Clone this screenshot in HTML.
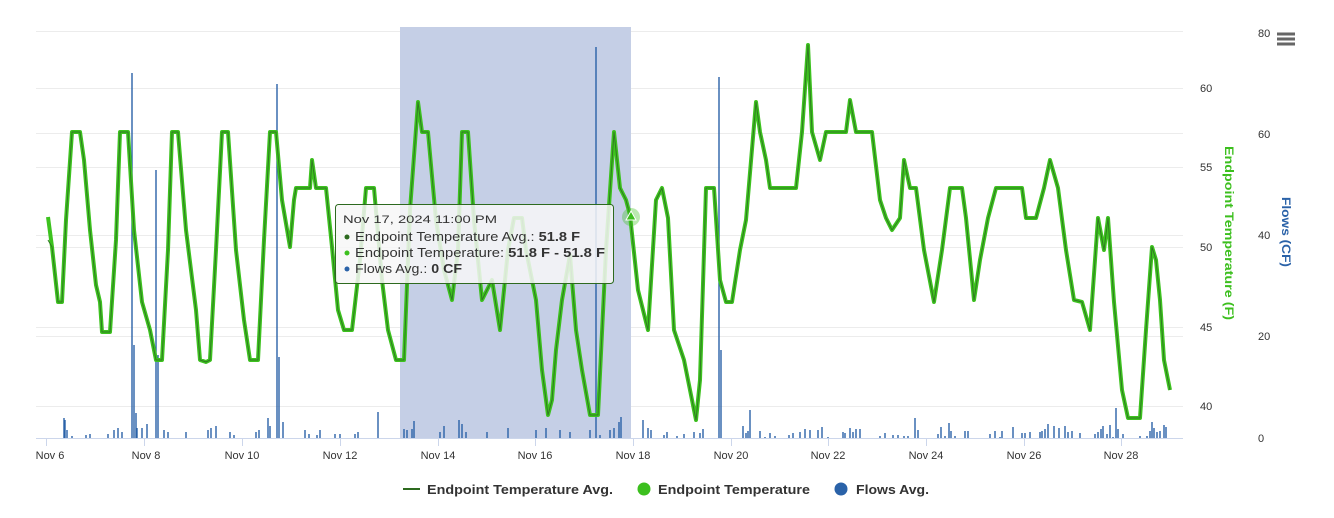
<!DOCTYPE html>
<html><head><meta charset="utf-8"><style>
html,body{margin:0;padding:0;background:#fff;}
svg{display:block;font-family:"Liberation Sans",sans-serif;}
</style></head><body>
<svg width="1334" height="518" viewBox="0 0 1334 518">
<rect width="1334" height="518" fill="#fff"/>
<g stroke="#ececec" stroke-width="1">
<line x1="36" x2="1183" y1="31.5" y2="31.5"/><line x1="36" x2="1183" y1="88.5" y2="88.5"/>
<line x1="36" x2="1183" y1="133.5" y2="133.5"/><line x1="36" x2="1183" y1="167.5" y2="167.5"/>
<line x1="36" x2="1183" y1="235.5" y2="235.5"/><line x1="36" x2="1183" y1="247.5" y2="247.5"/>
<line x1="36" x2="1183" y1="327.5" y2="327.5"/><line x1="36" x2="1183" y1="336.5" y2="336.5"/>
<line x1="36" x2="1183" y1="406.5" y2="406.5"/>
</g>
<rect x="400" y="27" width="231" height="411" fill="#c5cfe6"/>
<g stroke="#2a62a8" stroke-width="1.4" fill="none">
<path d="M132 438V73M134 438V345M156 438V170M158 438V355M277 438V84M279 438V357M596 438V47M719 438V77M721 438V350"/>
<path d="M64 438V418M65 438V420M67 438V430M72 438V436M86 438V435M90 438V434M108 438V434M114 438V430M118 438V428M122 438V432M136 438V413M137 438V428M142 438V428M147 438V424M164 438V430M168 438V432M186 438V432M208 438V430M211 438V428M216 438V426M230 438V432M234 438V435M256 438V432M259 438V430M268 438V418M270 438V426M283 438V422M305 438V430M309 438V434M317 438V435M320 438V430M335 438V434M340 438V434M355 438V434M358 438V432M378 438V412M404 438V429M407 438V430M412 438V429M414 438V421M440 438V432M444 438V426M459 438V420M462 438V424M466 438V432M487 438V432M508 438V428M536 438V430M546 438V428M560 438V430M570 438V432M590 438V430M600 438V435M610 438V430M614 438V428M619 438V422M621 438V417M643 438V420M648 438V428M651 438V430M664 438V435M667 438V432M677 438V436M684 438V434M694 438V432M700 438V433M703 438V429M743 438V426M746 438V433M748 438V431M750 438V410M760 438V431M765 438V437M770 438V433M775 438V436M789 438V435M793 438V433M800 438V432M805 438V429M810 438V430M818 438V430M822 438V427M828 438V437M843 438V432M845 438V433M850 438V428M853 438V432M856 438V429M860 438V429M880 438V436M885 438V433M893 438V435M898 438V435M904 438V436M908 438V436M915 438V418M918 438V430M938 438V434M941 438V427M945 438V436M949 438V423M951 438V431M955 438V436M965 438V431M968 438V431M990 438V434M995 438V431M1000 438V437M1002 438V431M1013 438V427M1022 438V433M1025 438V433M1030 438V432M1040 438V432M1042 438V431M1045 438V429M1048 438V424M1054 438V426M1059 438V428M1065 438V426M1068 438V432M1072 438V431M1080 438V433M1095 438V434M1098 438V432M1101 438V429M1103 438V426M1107 438V434M1110 438V425M1113 438V437M1116 438V408M1118 438V429M1123 438V434M1140 438V436M1147 438V436M1150 438V431M1152 438V422M1154 438V428M1157 438V432M1160 438V431M1164 438V425M1166 438V427"/>
</g>
<line x1="36" x2="1183" y1="438.5" y2="438.5" stroke="#ccd6eb"/>
<g stroke="#ccd6eb"><line x1="46.5" x2="46.5" y1="438" y2="446"/><line x1="144.5" x2="144.5" y1="438" y2="446"/><line x1="242.5" x2="242.5" y1="438" y2="446"/><line x1="340.5" x2="340.5" y1="438" y2="446"/><line x1="438.5" x2="438.5" y1="438" y2="446"/><line x1="535.5" x2="535.5" y1="438" y2="446"/><line x1="633.5" x2="633.5" y1="438" y2="446"/><line x1="731.5" x2="731.5" y1="438" y2="446"/><line x1="828.5" x2="828.5" y1="438" y2="446"/><line x1="926.5" x2="926.5" y1="438" y2="446"/><line x1="1024.5" x2="1024.5" y1="438" y2="446"/><line x1="1121.5" x2="1121.5" y1="438" y2="446"/></g>
<g fill="none" stroke-linejoin="round">
<polyline stroke="#3dc21f" stroke-width="4" points="48,217 52,247 58,302 62,302 66,220 72,132 80,132 84,160 90,230 96,285 100,302 102,332 110,332 116,240 120,132 128,132 134,230 142,302 150,330 156,360 162,360 168,250 172,132 178,132 186,230 196,310 200,360 206,362 210,360 216,250 222,132 228,132 236,250 244,320 250,360 258,360 264,240 270,132 276,132 282,200 290,247 294,200 296,188 310,188 312,160 316,188 326,188 332,247 338,310 344,330 352,330 360,260 366,188 374,188 382,280 388,330 396,360 404,360 410,210 418,102 422,132 428,132 436,220 444,270 452,300 458,250 462,132 468,132 474,220 482,300 492,280 500,330 508,250 514,218 522,218 526,250 536,300 542,370 548,415 552,400 556,350 562,300 570,255 576,330 582,370 590,415 598,415 606,250 614,132 620,188 626,200 630,215 638,290 648,330 656,200 662,188 668,218 674,330 684,360 690,390 696,420 700,380 706,188 714,188 720,280 726,302 732,302 740,250 746,220 756,102 760,132 766,160 770,188 796,188 802,132 808,45 812,132 820,160 826,132 846,132 850,100 856,132 872,132 880,200 886,218 892,230 900,218 904,160 910,188 916,188 924,250 934,302 942,250 950,188 962,188 966,218 974,300 980,260 988,218 996,188 1022,188 1026,218 1036,218 1044,188 1050,160 1058,188 1066,250 1074,300 1082,302 1090,330 1098,218 1104,250 1108,218 1114,302 1122,390 1128,418 1140,418 1146,330 1152,247 1156,260 1160,300 1164,360 1170,390"/>
<polyline stroke="#2f7a22" stroke-width="1" points="48,240 52,247 58,302 62,302 66,220 72,132 80,132 84,160 90,230 96,285 100,302 102,332 110,332 116,240 120,132 128,132 134,230 142,302 150,330 156,360 162,360 168,250 172,132 178,132 186,230 196,310 200,360 206,362 210,360 216,250 222,132 228,132 236,250 244,320 250,360 258,360 264,240 270,132 276,132 282,200 290,247 294,200 296,188 310,188 312,160 316,188 326,188 332,247 338,310 344,330 352,330 360,260 366,188 374,188 382,280 388,330 396,360 404,360 410,210 418,102 422,132 428,132 436,220 444,270 452,300 458,250 462,132 468,132 474,220 482,300 492,280 500,330 508,250 514,218 522,218 526,250 536,300 542,370 548,415 552,400 556,350 562,300 570,255 576,330 582,370 590,415 598,415 606,250 614,132 620,188 626,200 630,215 638,290 648,330 656,200 662,188 668,218 674,330 684,360 690,390 696,420 700,380 706,188 714,188 720,280 726,302 732,302 740,250 746,220 756,102 760,132 766,160 770,188 796,188 802,132 808,45 812,132 820,160 826,132 846,132 850,100 856,132 872,132 880,200 886,218 892,230 900,218 904,160 910,188 916,188 924,250 934,302 942,250 950,188 962,188 966,218 974,300 980,260 988,218 996,188 1022,188 1026,218 1036,218 1044,188 1050,160 1058,188 1066,250 1074,300 1082,302 1090,330 1098,218 1104,250 1108,218 1114,302 1122,390 1128,418 1140,418 1146,330 1152,247 1156,260 1160,300 1164,360 1170,390"/>
</g>
<circle cx="631" cy="217" r="9" fill="#3cbf1e" fill-opacity="0.35"/>
<path d="M631 211 L636 220 L626 220Z" fill="#3cbf1e" stroke="#fff" stroke-width="1"/>
<g font-size="11" fill="#333" text-anchor="middle">
<text x="50" y="459">Nov 6</text><text x="146" y="459">Nov 8</text><text x="242" y="459">Nov 10</text><text x="340" y="459">Nov 12</text><text x="438" y="459">Nov 14</text><text x="535" y="459">Nov 16</text><text x="633" y="459">Nov 18</text><text x="731" y="459">Nov 20</text><text x="828" y="459">Nov 22</text><text x="926" y="459">Nov 24</text><text x="1024" y="459">Nov 26</text><text x="1121" y="459">Nov 28</text>
</g>
<g font-size="11" fill="#333">
<text x="1200" y="92">60</text><text x="1200" y="171">55</text><text x="1200" y="251">50</text><text x="1200" y="331">45</text><text x="1200" y="410">40</text>
<text x="1258" y="37">80</text><text x="1258" y="138">60</text><text x="1258" y="239">40</text><text x="1258" y="340">20</text><text x="1258" y="442">0</text>
</g>
<text transform="translate(1225,146) rotate(90)" font-size="12" font-weight="bold" fill="#3cbf1e" textLength="174" lengthAdjust="spacingAndGlyphs">Endpoint Temperature (F)</text>
<text transform="translate(1282,197) rotate(90)" font-size="12" font-weight="bold" fill="#2a62a8" textLength="70" lengthAdjust="spacingAndGlyphs">Flows (CF)</text>
<g stroke="#666" stroke-width="3"><line x1="1277" x2="1295" y1="34" y2="34"/><line x1="1277" x2="1295" y1="39" y2="39"/><line x1="1277" x2="1295" y1="44" y2="44"/></g>
<rect x="335.5" y="204.5" width="278" height="79" rx="3" fill="#f7f7f7" fill-opacity="0.85" stroke="#2d6a1f"/>
<g font-size="13" fill="#333">
<text x="343" y="223" font-size="11" textLength="154" lengthAdjust="spacingAndGlyphs">Nov 17, 2024 11:00 PM</text>
<circle cx="347" cy="237" r="2.5" fill="#2d6a1f"/><text x="355" y="241" textLength="225" lengthAdjust="spacingAndGlyphs">Endpoint Temperature Avg.: <tspan font-weight="bold">51.8 F</tspan></text>
<circle cx="347" cy="253" r="2.5" fill="#3cbf1e"/><text x="355" y="257" textLength="250" lengthAdjust="spacingAndGlyphs">Endpoint Temperature: <tspan font-weight="bold">51.8 F - 51.8 F</tspan></text>
<circle cx="347" cy="269" r="2.5" fill="#2a62a8"/><text x="355" y="273" textLength="107" lengthAdjust="spacingAndGlyphs">Flows Avg.: <tspan font-weight="bold">0 CF</tspan></text>
</g>
<g font-size="13" font-weight="bold" fill="#333">
<line x1="403" x2="420" y1="489" y2="489" stroke="#2d6a1f" stroke-width="2"/>
<text x="427" y="494" textLength="186" lengthAdjust="spacingAndGlyphs">Endpoint Temperature Avg.</text>
<circle cx="644" cy="489" r="6.5" fill="#3cbf1e"/><text x="658" y="494" textLength="152" lengthAdjust="spacingAndGlyphs">Endpoint Temperature</text>
<circle cx="841" cy="489" r="6.5" fill="#2a62a8"/><text x="856" y="494" textLength="73" lengthAdjust="spacingAndGlyphs">Flows Avg.</text>
</g>
</svg>
</body></html>
